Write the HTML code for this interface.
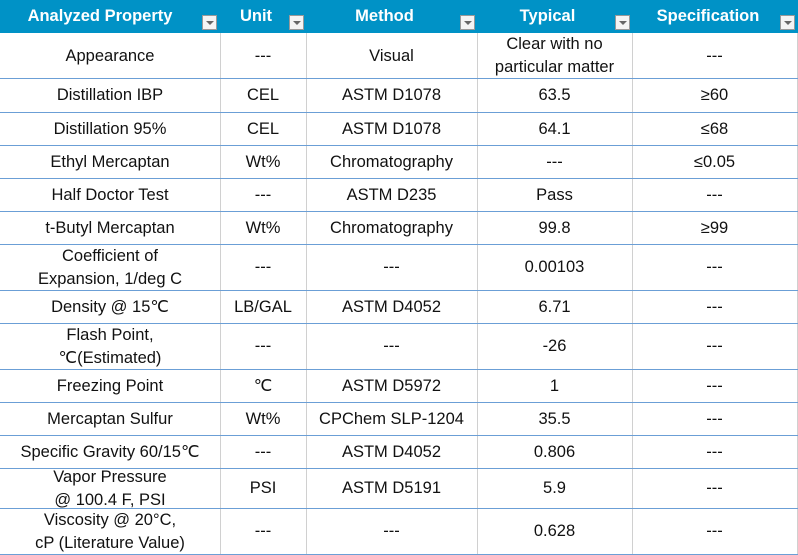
<!DOCTYPE html>
<html><head><meta charset="utf-8"><style>
body{margin:0;background:#fff;width:798px;height:555px;overflow:hidden;font-family:"Liberation Sans",sans-serif;}
.c{position:absolute;display:flex;align-items:center;justify-content:center;text-align:center;font-size:16.5px;color:#111;line-height:23px;box-sizing:border-box;}
.h{position:absolute;top:0;height:33px;background:#0092c6;color:#fff;font-weight:bold;font-size:16.5px;display:flex;align-items:center;justify-content:center;}
.dd{position:absolute;top:15px;width:15px;height:15px;background:#f4f4f4;border:1px solid #999;box-sizing:border-box;}
.dd:after{content:"";position:absolute;left:3px;top:5px;border-left:4px solid transparent;border-right:4px solid transparent;border-top:4px solid #666;}
.hl{position:absolute;left:0;width:798px;height:1px;background:#6b9fd6;}
.vl{position:absolute;top:33px;width:1px;height:522px;background:#d0d0d0;}
</style></head><body>
<div class="h" style="left:0;width:798px;background:#0092c6"></div>
<div class="h" style="left:0;width:220px;padding-right:20px;box-sizing:border-box">Analyzed Property</div>
<div class="h" style="left:220px;width:86px;padding-right:14px;box-sizing:border-box">Unit</div>
<div class="h" style="left:306px;width:171px;padding-right:14px;box-sizing:border-box">Method</div>
<div class="h" style="left:477px;width:155px;padding-right:14px;box-sizing:border-box">Typical</div>
<div class="h" style="left:632px;width:166px;padding-right:14px;box-sizing:border-box">Specification</div>
<div class="dd" style="left:202px"></div><div class="dd" style="left:289px"></div><div class="dd" style="left:460px"></div><div class="dd" style="left:615px"></div><div class="dd" style="left:780px"></div>
<div class="vl" style="left:220px"></div><div class="vl" style="left:306px"></div><div class="vl" style="left:477px"></div><div class="vl" style="left:632px"></div><div class="vl" style="left:797px"></div>
<div id="rows"></div>
<script>
var ys=[33,78,112,145,178,211,244,290,323,369,402,435,468,508,554];
var data=[
["Appearance","---","Visual","Clear with no<br>particular matter","---"],
["Distillation IBP","CEL","ASTM D1078","63.5","≥60"],
["Distillation 95%","CEL","ASTM D1078","64.1","≤68"],
["Ethyl Mercaptan","Wt%","Chromatography","---","≤0.05"],
["Half Doctor Test","---","ASTM D235","Pass","---"],
["t-Butyl Mercaptan","Wt%","Chromatography","99.8","≥99"],
["Coefficient of<br>Expansion, 1/deg C","---","---","0.00103","---"],
["Density @ 15℃","LB/GAL","ASTM D4052","6.71","---"],
["Flash Point,<br>℃(Estimated)","---","---","-26","---"],
["Freezing Point","℃","ASTM D5972","1","---"],
["Mercaptan Sulfur","Wt%","CPChem SLP-1204","35.5","---"],
["Specific Gravity 60/15℃","---","ASTM D4052","0.806","---"],
["Vapor Pressure<br>@ 100.4 F, PSI","PSI","ASTM D5191","5.9","---"],
["Viscosity @ 20°C,<br>cP (Literature Value)","---","---","0.628","---"]];
var xs=[0,220,306,477,632,797],h="";
for(var i=0;i<data.length;i++){
 for(var j=0;j<5;j++) h+='<div class="c" style="left:'+xs[j]+'px;width:'+(xs[j+1]-xs[j])+'px;top:'+(ys[i]+1)+'px;height:'+(ys[i+1]-ys[i]-1)+'px">'+data[i][j]+'</div>';
 h+='<div class="hl" style="top:'+ys[i+1]+'px"></div>';
}
document.getElementById('rows').innerHTML=h;
</script>
</body></html>
